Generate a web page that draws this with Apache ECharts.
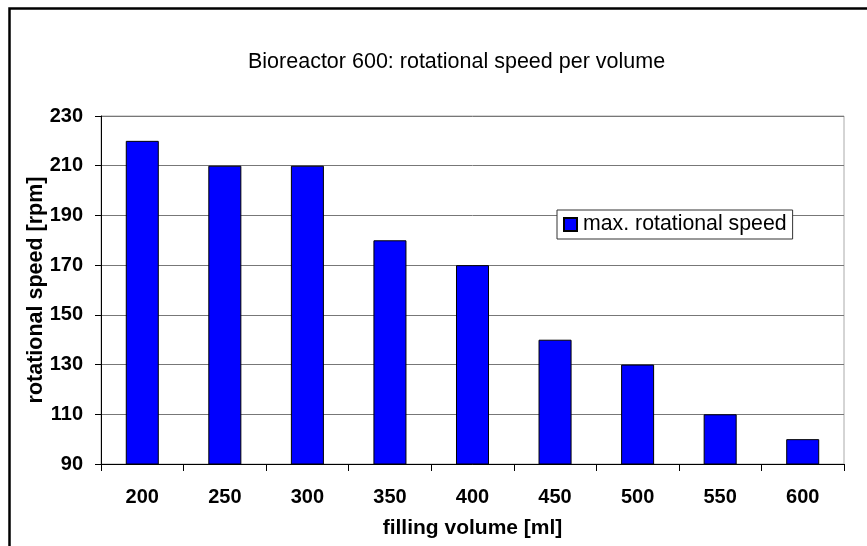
<!DOCTYPE html>
<html>
<head>
<meta charset="utf-8">
<script src="https://cdn.jsdelivr.net/npm/echarts@6/dist/echarts.min.js"></script>
<style>
html,body{margin:0;padding:0;background:#fff;}
#chart{width:867px;height:546px;}
</style>
</head>
<body>
<div id="chart"></div>
<script>
const categories = ['200', '250', '300', '350', '400', '450', '500', '550', '600'];
const maxSpeed = [220, 210, 210, 180, 170, 140, 130, 110, 100];
const seriesName = 'max. rotational speed';
const titleText = 'Bioreactor 600: rotational speed per volume';
const xName = 'filling volume [ml]';
const yName = 'rotational speed [rpm]';

const FONT = '"Liberation Sans", Arial, sans-serif';
const chart = echarts.init(document.getElementById('chart'));
chart.setOption({
  backgroundColor: '#fff',
  animation: false,
  textStyle: { fontFamily: FONT, color: '#000' },
  graphic: [{
    type: 'rect',
    shape: { x: 9.5, y: 8.5, width: 1000, height: 700 },
    style: { fill: 'none', stroke: '#000', lineWidth: 2.5 },
    silent: true
  }],
  title: {
    text: titleText,
    left: 248, top: 51, padding: 0,
    textStyle: { fontFamily: FONT, fontSize: 21.5, fontWeight: 'normal', color: '#000' }
  },
  legend: {
    left: 557, top: 210,
    padding: [4, 6],
    backgroundColor: '#fff',
    borderColor: '#333', borderWidth: 1,
    itemWidth: 13, itemHeight: 13, itemGap: 5,
    icon: 'rect',
    textStyle: { fontFamily: FONT, fontSize: 21.3, color: '#000', lineHeight: 20, padding: [0, 0, 0, 1] },
    data: [seriesName]
  },
  grid: {
    left: 101, right: 23, top: 116, bottom: 82,
    show: true, borderColor: '#aaa', borderWidth: 1
  },
  xAxis: {
    type: 'category',
    data: categories,
    name: xName,
    nameLocation: 'middle',
    nameGap: 54,
    nameMoveOverlap: false,
    nameTextStyle: { fontFamily: FONT, fontSize: 21, fontWeight: 'bold', color: '#000' },
    axisLine: { lineStyle: { color: '#000', width: 1 } },
    axisTick: { show: true, length: 7, lineStyle: { color: '#000' } },
    axisLabel: { fontFamily: FONT, fontSize: 20, fontWeight: 'bold', color: '#000', margin: 23 },
    splitLine: { show: false }
  },
  yAxis: {
    type: 'value',
    min: 90, max: 230, interval: 20,
    name: yName,
    nameLocation: 'middle',
    nameRotate: 90,
    nameGap: 54,
    nameMoveOverlap: false,
    nameTextStyle: { fontFamily: FONT, fontSize: 21.5, fontWeight: 'bold', color: '#000' },
    axisLine: { show: true, lineStyle: { color: '#000', width: 1 } },
    axisTick: { show: true, length: 6, lineStyle: { color: '#000' } },
    axisLabel: { fontFamily: FONT, fontSize: 20, fontWeight: 'bold', color: '#000', margin: 18 },
    splitLine: { show: true, lineStyle: { color: '#777', width: 1 } }
  },
  series: [{
    name: seriesName,
    type: 'bar',
    data: maxSpeed,
    barWidth: '40%',
    itemStyle: { color: '#0000ff', borderColor: '#000', borderWidth: 1 }
  }]
});
</script>
</body>
</html>
